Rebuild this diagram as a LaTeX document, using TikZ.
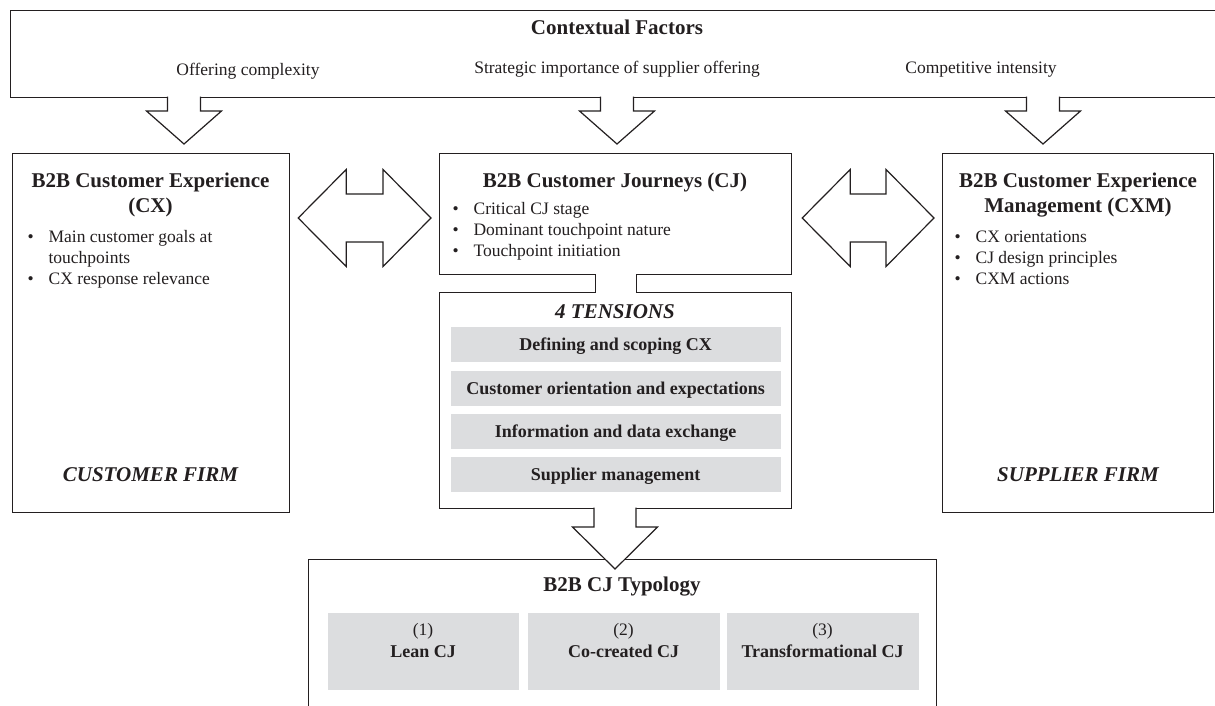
\documentclass[tikz,border=0pt]{standalone}
\usepackage{fontspec}
\setmainfont{Liberation Serif}
\usetikzlibrary{calc}
\definecolor{barfill}{RGB}{220,221,223}
\definecolor{ink}{RGB}{35,31,32}
\newcommand\hd{\fontsize{21}{25}\selectfont\bfseries}
\newcommand\hdi{\fontsize{21}{25}\selectfont\bfseries\itshape}
\newcommand\bd{\fontsize{17.5}{21}\selectfont}
\newcommand\bb{\fontsize{18}{21}\selectfont\bfseries}
\newcommand\bul{\makebox[21pt][l]{•}}
% fat down arrow: #1 start on box edge, #2 tip, #3 half stem, #4 half head, #5 head length
\newcommand\fatdown[5]{%
  \draw[fat] ($(#1)+(-#3,-1.5)$) -- ($(#2)+(-#3,-#5)$) -- ($(#2)+(-#4,-#5)$) -- (#2)
    -- ($(#2)+(#4,-#5)$) -- ($(#2)+(#3,-#5)$) -- ($(#1)+(#3,-1.5)$);}
% fat double arrow between two tips
\newcommand\fatboth[2]{%
  \draw[fat] (#1) -- ($(#1)+(48,-48.5)$) -- ($(#1)+(48,-24)$) -- ($(#2)+(-48,-24)$)
    -- ($(#2)+(-48,-48.5)$) -- (#2) -- ($(#2)+(-48,48.5)$) -- ($(#2)+(-48,24)$)
    -- ($(#1)+(48,24)$) -- ($(#1)+(48,48.5)$) -- cycle;}
\begin{document}
\begin{tikzpicture}[x=1pt,y=-1pt,line width=1.2pt,
  box/.style={draw=ink,fill=white,inner sep=0pt,anchor=north west},
  bar/.style={fill=barfill,inner sep=0pt,anchor=north west,text=ink,
              text height=12pt,text depth=0pt},
  fat/.style={draw=ink,fill=white,line join=miter},
  txt/.style={inner sep=0pt,anchor=base,text=ink},
  lst/.style={inner sep=0pt,anchor=base west,text=ink}]
\useasboundingbox (0,0) rectangle (1215,706);
\clip (0,0) rectangle (1215,706);
\fill[white] (0,0) rectangle (1215,706);

% boxes
\node[box,minimum width=1240pt,minimum height=87pt] (ctx) at (10,10) {};
\node[box,minimum width=277pt,minimum height=359pt] (cx) at (12,153) {};
\node[box,minimum width=352pt,minimum height=121pt] (cj) at (439,153) {};
\node[box,minimum width=352pt,minimum height=216pt] (ten) at (439,292) {};
\node[box,minimum width=271pt,minimum height=359pt] (cxm) at (942,153) {};
\node[box,minimum width=628pt,minimum height=200pt] (typ) at (308,559) {};

% contextual factors
\node[txt] (ctxT) at (617,35) {\hd Contextual Factors};
\node[txt] (f1) at (248,76) {\bd Offering complexity};
\node[txt] (f2) at (617,74) {\bd Strategic importance of supplier offering};
\node[txt] (f3) at (981,74) {\bd Competitive intensity};

% down arrows from context box
\coordinate (t1) at (184,144);
\coordinate (t2) at (617,144);
\coordinate (t3) at (1043,144);
\coordinate (s1) at (t1 |- ctx.south);
\coordinate (s2) at (t2 |- ctx.south);
\coordinate (s3) at (t3 |- ctx.south);
\fatdown{s1}{t1}{16.5}{37.5}{33}
\fatdown{s2}{t2}{16.5}{37.5}{33}
\fatdown{s3}{t3}{16.5}{37.5}{33}

% double arrows
\coordinate (L1) at ($(cx.north east)+(8,65)$);
\coordinate (R1) at ($(cj.north west)+(-8,65)$);
\coordinate (L2) at ($(cj.north east)+(10,65)$);
\coordinate (R2) at ($(cxm.north west)+(-8,65)$);
\fatboth{L1}{R1}
\fatboth{L2}{R2}

% neck between CJ and tensions
\fill[white] ($(cj.south)+(-20,-1)$) rectangle ($(ten.north)+(20,1)$);
\draw[ink] ($(cj.south)+(-20.5,0)$) -- ($(ten.north)+(-20.5,0)$)
           ($(cj.south)+(20.5,0)$) -- ($(ten.north)+(20.5,0)$);

% CX box
\node[txt] (cxT1) at (150.5,187) {\hd B2B Customer Experience};
\node[txt] (cxT2) at (150.5,212) {\hd (CX)};
\node[lst] (cxL) at (27,242) {\bd\begin{tabular}[t]{@{}l@{}l@{}}
 \bul & Main customer goals at\\
      & touchpoints\\
 \bul & CX response relevance
\end{tabular}};
\node[txt] (cxF) at (150.5,481) {\hdi CUSTOMER FIRM};

% CJ box
\node[txt] (cjT) at (615,187) {\hd B2B Customer Journeys (CJ)};
\node[lst] (cjL) at (452,214) {\bd\begin{tabular}[t]{@{}l@{}l@{}}
 \bul & Critical CJ stage\\
 \bul & Dominant touchpoint nature\\
 \bul & Touchpoint initiation
\end{tabular}};

% CXM box
\node[txt] (cxmT1) at (1078,187) {\hd B2B Customer Experience};
\node[txt] (cxmT2) at (1078,212) {\hd Management (CXM)};
\node[lst] (cxmL) at (954,242) {\bd\begin{tabular}[t]{@{}l@{}l@{}}
 \bul & CX orientations\\
 \bul & CJ design principles\\
 \bul & CXM actions
\end{tabular}};
\node[txt] (cxmF) at (1078,481) {\hdi SUPPLIER FIRM};

% tensions
\node[txt] (tenT) at (615,318) {\hdi 4 TENSIONS};
\node[bar,minimum width=330pt,minimum height=35pt] (b1) at (450,326) {\bb Defining and scoping CX};
\node[bar,minimum width=330pt,minimum height=35pt] (b2) at (450,370) {\bb Customer orientation and expectations};
\node[bar,minimum width=330pt,minimum height=35pt] (b3) at (450,413) {\bb Information and data exchange};
\node[bar,minimum width=330pt,minimum height=35pt] (b4) at (450,456) {\bb Supplier management};

% arrow to typology
\coordinate (t4) at (615,569);
\coordinate (s4) at (t4 |- ten.south);
\fatdown{s4}{t4}{21}{42.5}{42}

% typology
\node[txt] (typT) at (622,591) {\hd B2B CJ Typology};
\node[bar,minimum width=191pt,minimum height=77pt] (y1) at (327,612) {};
\node[bar,minimum width=192pt,minimum height=77pt] (y2) at (527,612) {};
\node[bar,minimum width=192pt,minimum height=77pt] (y3) at (726,612) {};
\node[txt] (y1a) at ($(y1.north)+(0,23)$) {\bd (1)};
\node[txt] (y1b) at ($(y1.north)+(0,45)$) {\bb Lean CJ};
\node[txt] (y2a) at ($(y2.north)+(0,23)$) {\bd (2)};
\node[txt] (y2b) at ($(y2.north)+(0,45)$) {\bb Co-created CJ};
\node[txt] (y3a) at ($(y3.north)+(0,23)$) {\bd (3)};
\node[txt] (y3b) at ($(y3.north)+(0,45)$) {\bb Transformational CJ};
\end{tikzpicture}
\end{document}
